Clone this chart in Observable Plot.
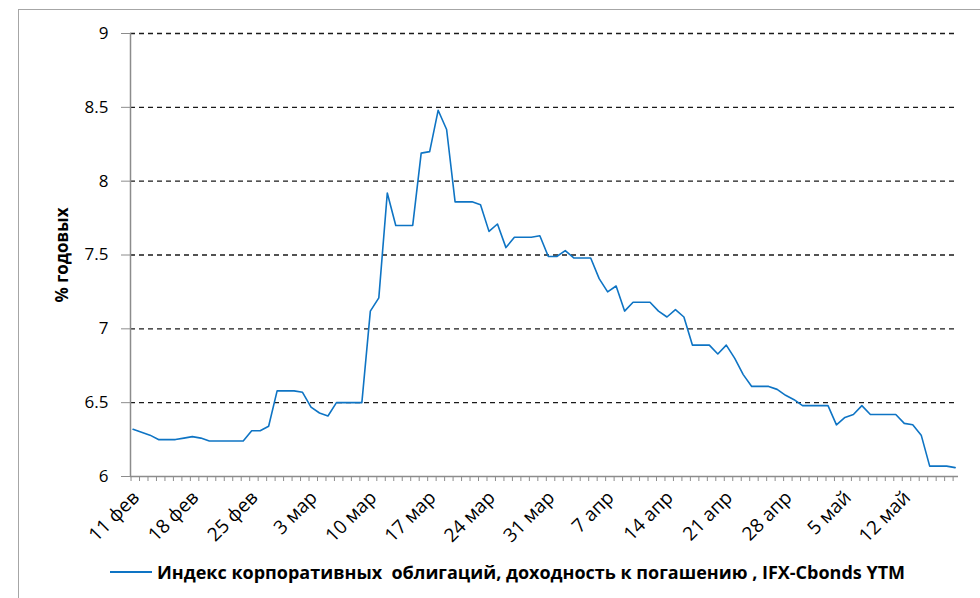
<!DOCTYPE html>
<html><head><meta charset="utf-8">
<script src="https://cdn.jsdelivr.net/npm/d3@7"></script>
<script src="https://cdn.jsdelivr.net/npm/@observablehq/plot@0.6"></script>
<style>
body{margin:0;background:#fff;font-family:"Open Sans",Lato,sans-serif}
#wrap{position:relative;width:980px;height:598px;overflow:hidden;background:#fff}
#frame{position:absolute;left:18px;top:9px;width:1000px;height:700px;border-left:1.5px solid #a6a6a6;border-top:1.5px solid #a6a6a6}
#chart{position:absolute;left:0;top:0}
#legend{position:absolute;left:110px;top:561px;height:22px;display:flex;align-items:center;font-weight:bold;font-size:18px;white-space:pre;color:#000;font-family:"Open Sans",sans-serif}
#legend .sw{display:inline-block;width:42px;height:2px;background:#0E74C4;margin-right:5px}
</style></head>
<body>
<div id="wrap">
  <div id="frame"></div>
  <div id="chart"></div>
  <div id="legend"><span class="sw"></span><span id="legtext"></span></div>
</div>
<script>
// ---- data ----
const seriesName = "Индекс корпоративных  облигаций, доходность к погашению , IFX-Cbonds YTM";
const yTitle = "% годовых";
const startDate = [2020, 1, 11]; // 11 Feb 2020, daily values (calendar days)
const values = [
  6.32, 6.30, 6.28, 6.25, 6.25, 6.25, 6.26, 6.27, 6.26, 6.24,
  6.24, 6.24, 6.24, 6.24, 6.31, 6.31, 6.34, 6.58, 6.58, 6.58,
  6.57, 6.47, 6.43, 6.41, 6.50, 6.50, 6.50, 6.50, 7.12, 7.21,
  7.92, 7.70, 7.70, 7.70, 8.19, 8.20, 8.48, 8.35, 7.86, 7.86,
  7.86, 7.84, 7.66, 7.71, 7.55, 7.62, 7.62, 7.62, 7.63, 7.49,
  7.49, 7.53, 7.48, 7.48, 7.48, 7.34, 7.25, 7.29, 7.12, 7.18,
  7.18, 7.18, 7.12, 7.08, 7.13, 7.08, 6.89, 6.89, 6.89, 6.83,
  6.89, 6.80, 6.69, 6.61, 6.61, 6.61, 6.59, 6.55, 6.52, 6.48,
  6.48, 6.48, 6.48, 6.35, 6.40, 6.42, 6.48, 6.42, 6.42, 6.42,
  6.42, 6.36, 6.35, 6.28, 6.07, 6.07, 6.07, 6.06
];
const monthNames = ["янв","фев","мар","апр","май","июн","июл","авг","сен","окт","ноя","дек"];
const yTicks = [6, 6.5, 7, 7.5, 8, 8.5, 9];
const labelStep = 7;

// ---- build ----
const first = new Date(Date.UTC(...startDate));
const data = values.map((v, i) => ({date: d3.utcDay.offset(first, i), value: v}));
const last = data[data.length - 1].date;
const dayMs = 864e5;
const x0 = new Date(+first - 0.3 * dayMs);
const x1 = new Date(+last + 0.4 * dayMs);
const allDays = data.map(d => d.date);
const labelDays = allDays.filter((d, i) => i % labelStep === 0);
const fmt = d => `${d.getUTCDate()} ${monthNames[d.getUTCMonth()]}`;

document.getElementById("legtext").textContent = seriesName;

const chart = Plot.plot({
  width: 980, height: 545,
  marginLeft: 130, marginRight: 22, marginTop: 33, marginBottom: 69,
  style: {fontFamily: "'Open Sans', Lato, sans-serif", background: "transparent", overflow: "visible", color: "#000"},
  x: {type: "utc", domain: [x0, x1]},
  y: {domain: [6, 9]},
  marks: [
    Plot.ruleY(yTicks.filter(d => d > 6), {stroke: "#1a1a1a", strokeWidth: 1.3, strokeDasharray: "5,4"}),
    Plot.ruleY([6], {stroke: "#8c8c8c", strokeWidth: 1.5}),
    Plot.ruleX([x0], {stroke: "#8c8c8c", strokeWidth: 1.5}),
    Plot.axisY({ticks: yTicks, tickSize: 9, tickPadding: 13, tickFormat: d => String(d), fontSize: 17, stroke: "#8c8c8c", label: null}),
    Plot.axisX({ticks: allDays, tickSize: 5, tickFormat: () => "", label: null, stroke: "#8c8c8c", dx: -2}),
    Plot.axisX({ticks: labelDays, tickSize: 0, tickPadding: 18, dx: 3, tickRotate: -45, tickFormat: fmt, fontSize: 19, label: null}),
    Plot.lineY(data, {x: "date", y: "value", stroke: "#0E74C4", strokeWidth: 1.6}),
    Plot.text([yTitle], {frameAnchor: "left", textAnchor: "middle", dx: -68, rotate: -90, fontWeight: "bold", fontSize: 17, fill: "#000"})
  ]
});
document.getElementById("chart").appendChild(chart);
</script>
</body></html>
